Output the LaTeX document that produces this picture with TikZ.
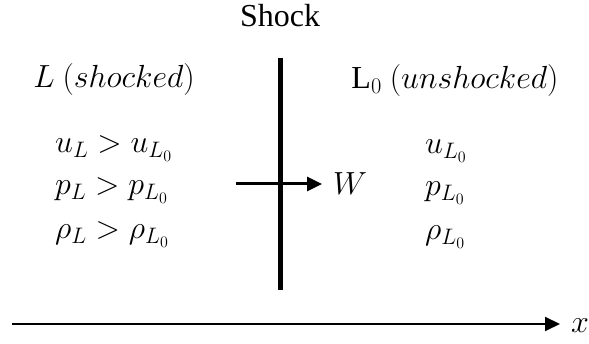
\RequirePackage{fix-cm}
\documentclass[tikz,border=0pt]{standalone}
\usepackage{fontspec}
\setmainfont{Liberation Serif}
\usetikzlibrary{arrows.meta}
\begin{document}
\begin{tikzpicture}[x=1pt,y=-1pt,
  lab/.style={inner sep=0pt, anchor=base, font=\fontsize{32}{38}\selectfont},
  collab/.style={inner sep=0pt, anchor=base west, font=\fontsize{32}{38}\selectfont},
  tip/.style={-{Triangle[length=15pt,width=14pt]}}]
\useasboundingbox (0,0) rectangle (589,344);
\node[lab] (shock) at (280,27) {Shock};
\coordinate (st) at (280,58);
\coordinate (sb) at (280,290);
\draw[line width=5pt] (st) -- (sb);
\node[lab] (left) at (114,88) {$L\ (shocked)$};
\node[lab] (right) at (455,89) {$\mathrm{L}_0\ (unshocked)$};
\node[collab] (lu) at (55,153) {$u_L > u_{L_0}$};
\node[collab] (lp) at (55,195) {$p_L > p_{L_0}$};
\node[collab] (lr) at (55,239) {$\rho_L > \rho_{L_0}$};
\node[collab] (ru) at (425,154) {$u_{L_0}$};
\node[collab] (rp) at (425,196) {$p_{L_0}$};
\node[collab] (rr) at (425,240) {$\rho_{L_0}$};
\coordinate (ws) at (236,184);
\node[inner sep=0pt, anchor=west, font=\fontsize{32}{38}\selectfont] (w) at (333,184) {$W$};
\draw[line width=3pt, tip] (ws) -- (w.west -| 322,0);
\coordinate (xs) at (12,324);
\node[inner sep=0pt, anchor=base, font=\fontsize{32}{38}\selectfont] (xl) at (580,333) {$x$};
\draw[line width=2pt, tip] (xs) -- (560,324);
\end{tikzpicture}
\end{document}
